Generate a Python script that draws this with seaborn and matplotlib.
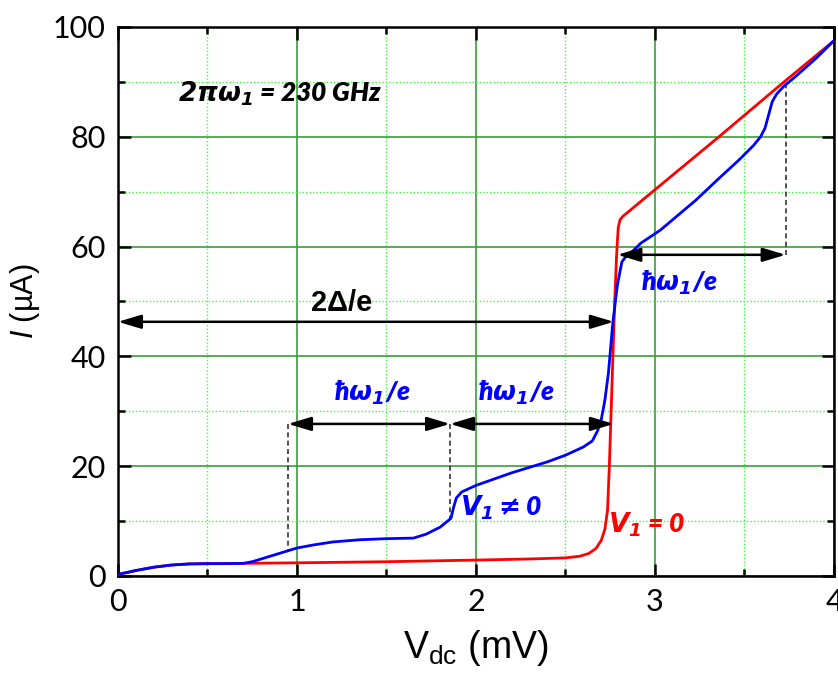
import numpy as np
import pandas as pd
import matplotlib
matplotlib.use("Agg")
import matplotlib.pyplot as plt
import seaborn as sns
from matplotlib.ticker import MultipleLocator

# ---- data ----
red_v = [0.00, 0.05, 0.10, 0.20, 0.30, 0.40, 0.50, 0.70, 1.00, 1.50, 2.00, 2.30, 2.50,
         2.58, 2.63, 2.67, 2.70, 2.72, 2.735, 2.745, 2.755, 2.765, 2.775, 2.785, 2.79,
         2.795, 2.805, 2.82, 2.85, 2.92, 3.35, 3.71, 4.00]
red_i = [0.3, 0.6, 1.0, 1.6, 2.0, 2.2, 2.25, 2.3, 2.4, 2.6, 2.9, 3.1, 3.3,
         3.6, 4.1, 5.0, 6.5, 8.5, 12, 20, 30, 40, 50, 58, 61,
         63.5, 64.9, 65.5, 66.3, 68.2, 79.8, 89.7, 97.5]

blue_v = [0.00, 0.10, 0.20, 0.30, 0.40, 0.50, 0.60, 0.70, 0.75, 0.85, 0.95, 1.00, 1.10,
          1.20, 1.35, 1.50, 1.65, 1.72, 1.80, 1.86, 1.875, 1.89, 1.92, 2.00, 2.20, 2.40,
          2.50, 2.60, 2.65, 2.68, 2.70, 2.72, 2.74, 2.765, 2.79, 2.815, 2.84, 2.88, 2.92,
          3.03, 3.23, 3.35, 3.47, 3.55, 3.59, 3.615, 3.635, 3.655, 3.68, 3.72, 3.79,
          3.90, 4.00]
blue_i = [0.3, 1.0, 1.6, 2.0, 2.2, 2.25, 2.25, 2.3, 2.6, 3.6, 4.6, 5.1, 5.7,
          6.2, 6.6, 6.8, 6.9, 7.6, 8.9, 10.5, 12.5, 14.2, 15.3, 16.5, 18.8, 20.8,
          22.0, 23.5, 24.6, 26.5, 28.5, 32, 37, 46.3, 53, 57.2, 58.3, 59.3, 60.6,
          63.0, 68.5, 72.2, 75.8, 78.4, 80.0, 81.6, 84.0, 86.4, 87.8, 89.2, 91.1,
          94.3, 97.5]

x_ticks = [0, 1, 2, 3, 4]
y_ticks = [0, 20, 40, 60, 80, 100]

# annotation geometry (data units)
gap_arrow_v = [0.0, 2.77]      # 2Delta/e
gap_arrow_i = 46.3
step1_v = [0.95, 1.855]
step2_v = [1.855, 2.77]
step_i = 27.7
step3_v = [2.79, 3.73]
step3_i = 58.5
dash_lines = [(0.95, 27.7, 4.6), (1.855, 27.7, 10.5), (3.73, 58.5, 89.4)]

df = pd.concat([
    pd.DataFrame({"V": red_v, "I": red_i, "curve": "V1 = 0"}),
    pd.DataFrame({"V": blue_v, "I": blue_i, "curve": "V1 != 0"}),
], ignore_index=True)

sns.set_style("white")
plt.rcParams["font.family"] = ["Lato", "DejaVu Sans"]
plt.rcParams["text.color"] = "black"
plt.rcParams["axes.labelcolor"] = "black"
plt.rcParams["xtick.color"] = "black"
plt.rcParams["ytick.color"] = "black"
plt.rcParams["mathtext.fontset"] = "custom"
plt.rcParams["mathtext.rm"] = "Liberation Sans"
plt.rcParams["mathtext.sf"] = "Liberation Sans"
plt.rcParams["mathtext.it"] = "Liberation Sans:italic"
plt.rcParams["mathtext.bf"] = "DejaVu Sans:bold"
plt.rcParams["mathtext.bfit"] = "DejaVu Sans:bold:italic"
plt.rcParams["mathtext.fallback"] = "stixsans"

fig = plt.figure(figsize=(8.38, 6.88), dpi=100)
ax = fig.add_axes([0.1408, 0.1628, 0.9952 - 0.1408, 0.9608 - 0.1628])

sns.lineplot(data=df, x="V", y="I", hue="curve", palette={"V1 = 0": "#ff0000", "V1 != 0": "#0000ff"},
             hue_order=["V1 = 0", "V1 != 0"], sort=False, estimator=None, lw=2.0, legend=False,
             ax=ax, zorder=3)

ax.set_xlim(0, 4)
ax.set_ylim(0, 100)
ax.xaxis.set_major_locator(MultipleLocator(1))
ax.xaxis.set_minor_locator(MultipleLocator(0.5))
ax.yaxis.set_major_locator(MultipleLocator(20))
ax.yaxis.set_minor_locator(MultipleLocator(10))
ax.set_xticks(x_ticks)
ax.set_yticks(y_ticks)

ax.grid(True, which="major", color="#3a9e3a", lw=1.2, ls="-", zorder=0)
ax.grid(True, which="minor", color="#33ff33", lw=1.0, ls=(0, (1, 1.5)), zorder=0)
ax.set_axisbelow(True)

for s in ax.spines.values():
    s.set_color("black")
    s.set_linewidth(1.8)
    s.set_visible(True)

ax.tick_params(which="both", direction="in", top=True, right=True, bottom=True, left=True,
               color="black", width=1.8, labelcolor="black")
ax.tick_params(which="major", length=9, labelsize=22, pad=9)
ax.tick_params(which="minor", length=5)
for lab in ax.get_xticklabels() + ax.get_yticklabels():
    lab.set_fontfamily("Lato")
    lab.set_color("black")

ax.set_xlabel(r"V$_{\rm dc}$ (mV)", fontsize=27, fontfamily="Liberation Sans", labelpad=8, color="black")
ax.set_ylabel(r"$\mathit{I}$ (µA)", fontsize=22, fontfamily="Liberation Sans", labelpad=8, color="black")

# arrows
aprops = dict(arrowstyle="<|-|>,head_length=1.0,head_width=0.3", color="black", lw=1.8,
              mutation_scale=14, shrinkA=0, shrinkB=0)
ax.annotate("", xy=(gap_arrow_v[1], gap_arrow_i), xytext=(gap_arrow_v[0], gap_arrow_i), arrowprops=aprops, zorder=4)
ax.annotate("", xy=(step1_v[1], step_i), xytext=(step1_v[0], step_i), arrowprops=aprops, zorder=4)
ax.annotate("", xy=(step2_v[1], step_i), xytext=(step2_v[0], step_i), arrowprops=aprops, zorder=4)
ax.annotate("", xy=(step3_v[1], step3_i), xytext=(step3_v[0], step3_i), arrowprops=aprops, zorder=4)
for xv, y0, y1 in dash_lines:
    ax.plot([xv, xv], [y0, y1], color="#333333", lw=1.2, ls=(0, (3, 2)), zorder=2)

# texts
W = "heavy"
ax.text(0.335, 87.8, r"$\mathbfit{2\pi\omega_1}$ = 230 GHz", fontsize=19, fontweight=W,
        fontstyle="italic", fontfamily="Lato", ha="left", va="center", color="black")
ax.text(1.25, 49.8, "2Δ/e", fontsize=21, fontweight="bold", fontfamily="Liberation Sans",
        ha="center", va="center", color="black")
hw = r"ħ$\mathbfit{\omega_1}$/e"
for (xx, yy) in [(1.42, 33.3), (2.23, 33.3), (3.14, 53.4)]:
    ax.text(xx, yy, hw, fontsize=19, fontweight=W, fontstyle="italic", fontfamily="Lato",
            ha="center", va="center", color="#0000ff")
ax.text(2.14, 12.4, r"$\mathbfit{V_1}\mathbf{\neq}$0", fontsize=19, fontweight=W,
        fontstyle="italic", fontfamily="Lato", ha="center", va="center", color="#0000ff")
ax.text(2.95, 9.3, r"$\mathbfit{V_1}$ = 0", fontsize=19, fontweight=W,
        fontstyle="italic", fontfamily="Lato", ha="center", va="center", color="#ff0000")

fig.savefig("out.png", dpi=100)
